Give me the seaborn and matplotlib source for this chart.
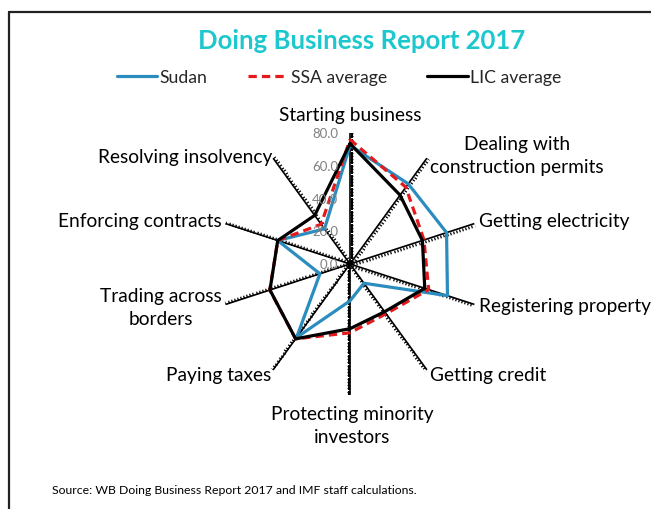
import numpy as np
import pandas as pd
import matplotlib
matplotlib.use("Agg")
import matplotlib.pyplot as plt
from matplotlib.lines import Line2D
from matplotlib.markers import MarkerStyle
from matplotlib.path import Path
from matplotlib.transforms import Affine2D
import seaborn as sns

# ---- data ----
categories = ["Starting business", "Dealing with\nconstruction permits", "Getting electricity",
              "Registering property", "Getting credit", "Protecting minority\ninvestors",
              "Paying taxes", "Trading across\nborders", "Enforcing contracts", "Resolving insolvency"]
sudan = [72.5, 60.5, 62.0, 62.6, 14.5, 22.5, 55.5, 19.3, 46.4, 26.5]
ssa_avg = [76.0, 58.0, 47.5, 50.5, 37.5, 42.0, 56.5, 51.5, 46.4, 30.0]
lic_avg = [73.5, 52.0, 46.5, 48.0, 36.0, 39.5, 56.5, 51.4, 46.4, 36.7]
series_names = ["Sudan", "SSA average", "LIC average"]
r_ticks = [0, 20, 40, 60, 80]
r_tick_labels = ["0.0", "20.0", "40.0", "60.0", "80.0"]

sns.set_theme(style="white")
plt.rcParams["font.family"] = ["Lato", "DejaVu Sans"]

W, H = 651, 510
fig = plt.figure(figsize=(W / 100, H / 100), dpi=100)

cx, cy, R = 350, 265, 131
ax = fig.add_axes([(cx - R) / W, (H - cy - R) / H, 2 * R / W, 2 * R / H], projection="polar")
ax.set_theta_offset(np.pi / 2)
ax.set_theta_direction(-1)
ax.set_ylim(0, 80)
ax.grid(False)
ax.set_xticks([])
ax.set_yticks([])
ax.spines["polar"].set_visible(False)
ax.patch.set_alpha(0)

n = len(categories)
angles = np.arange(n) * 2 * np.pi / n

# spokes with one-sided minor tick marks
minor = np.arange(2, 80.1, 2)
tick_path = Path([(0, 0), (1, 0)], [Path.MOVETO, Path.LINETO])
for a in angles:
    ax.plot([a, a], [0, 80], color="black", lw=1.2, zorder=1, solid_capstyle="butt")
    m = MarkerStyle(tick_path, transform=Affine2D().rotate_deg(-np.degrees(a)))
    ax.plot(np.full(len(minor), a), minor, ls="none", marker=m, ms=4.2,
            mew=0.9, color="black", zorder=1)

# r tick labels
for v, lab in zip(r_ticks, r_tick_labels):
    ax.annotate(lab, xy=(0, v), xytext=(-8.5, 0), textcoords="offset points",
                ha="right", va="center", fontsize=9.5, color="#808080", zorder=5)

colors = ["#2B8CBE", "#E41A1C", "#000000"]
styles = ["-", "--", "-"]
for name, vals, col, ls in zip(series_names, [sudan, ssa_avg, lic_avg], colors, styles):
    df = pd.DataFrame({"theta": np.append(angles, angles[0]), "r": np.append(vals, vals[0])})
    sns.lineplot(data=df, x="theta", y="r", sort=False, ax=ax, color=col,
                 lw=2.3, zorder=3, estimator=None)
    if ls == "--":
        ax.lines[-1].set_dashes((2.6, 1.6))

ax.set_xlabel("")
ax.set_ylabel("")
ax.set_ylim(0, 80)

# category labels (pixel positions)
lab_pos = [
    (350, 116, "center", "center"),
    (517, 156, "center", "center"),
    (479, 222, "left", "center"),
    (479, 307, "left", "center"),
    (430, 375, "left", "center"),
    (352, 426, "center", "center"),
    (271, 375, "right", "center"),
    (222, 308, "right", "center"),
    (222, 222, "right", "center"),
    (272, 157, "right", "center"),
]
for txt, (x, y, ha, va) in zip(categories, lab_pos):
    fig.text(x / W, 1 - y / H, txt, ha=ha, va=va, fontsize=13.8, color="black",
             multialignment="center", linespacing=1.45)

# title
fig.text(362 / W, 1 - 41 / H, "Doing Business Report 2017", ha="center", va="center",
         fontsize=18.5, fontweight="bold", color="#1CC8CE")

# legend
handles = [Line2D([], [], color=colors[0], lw=2.3),
           Line2D([], [], color=colors[1], lw=2.3, ls=(0, (2.6, 1.6))),
           Line2D([], [], color=colors[2], lw=2.3)]
fig.legend(handles, series_names, loc="center", bbox_to_anchor=(339 / W, 1 - 78 / H),
           ncol=3, frameon=False, fontsize=12.7, handlelength=2.3, handletextpad=0.12,
           columnspacing=2.3)

# source
fig.text(52 / W, 1 - 491 / H, "Source: WB Doing Business Report 2017 and IMF staff calculations.",
         ha="left", va="center", fontsize=8.8, color="black")

# frame (open on right and bottom)
fig.add_artist(Line2D([9 / W, 1.0], [1 - 13 / H, 1 - 13 / H], transform=fig.transFigure,
                      color="#222222", lw=1.6))
fig.add_artist(Line2D([9 / W, 9 / W], [1 - 13 / H, 0.0], transform=fig.transFigure,
                      color="#222222", lw=1.6))

fig.savefig("out.png", dpi=100)
